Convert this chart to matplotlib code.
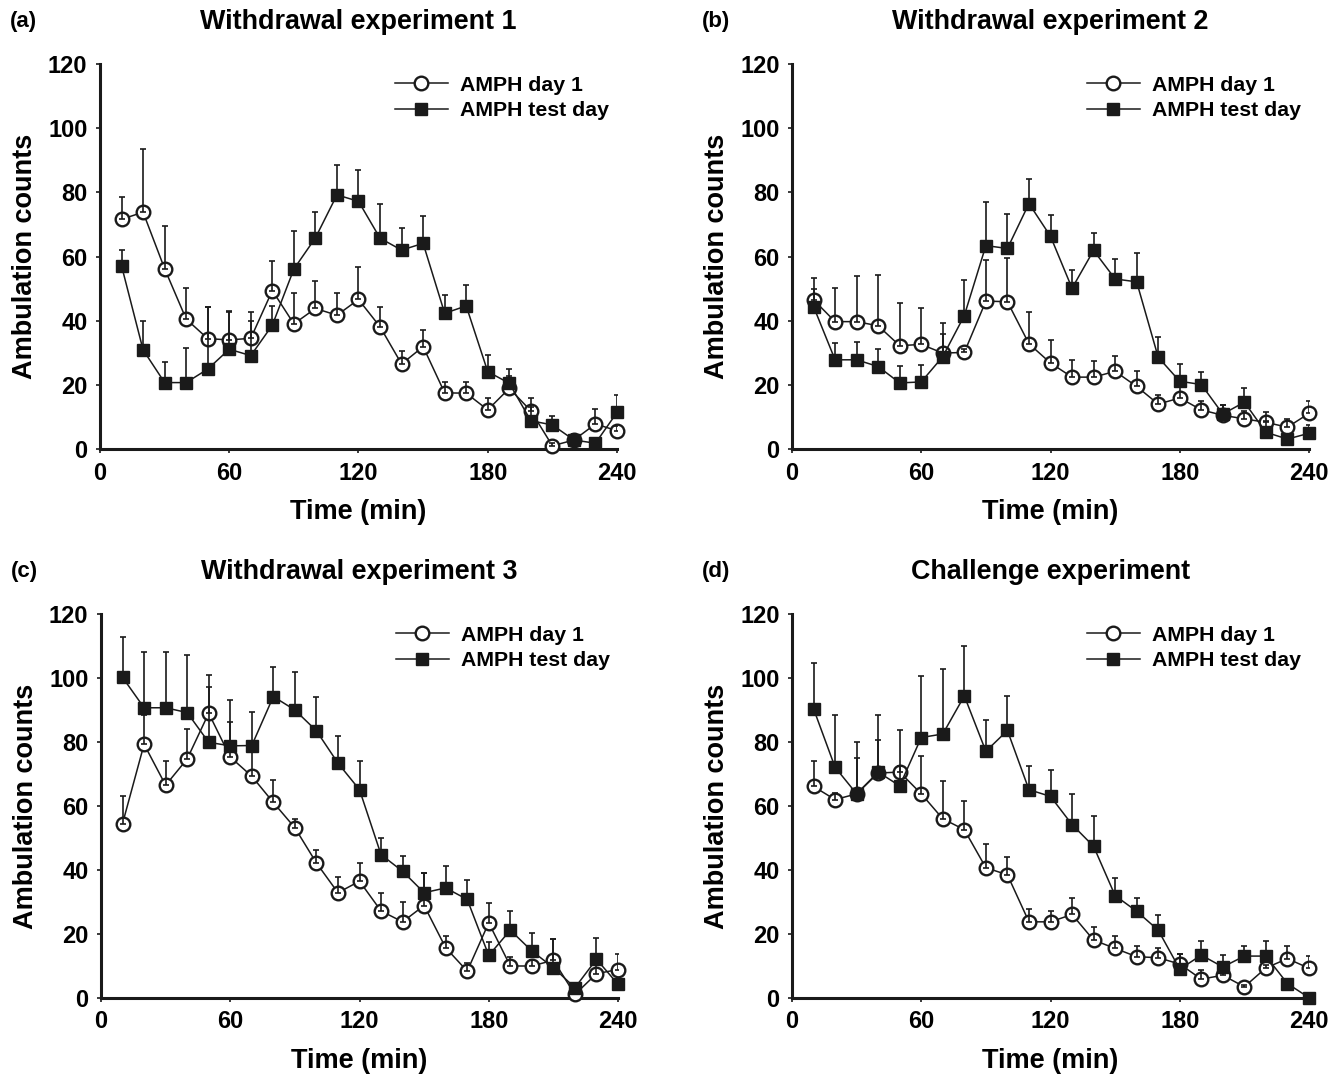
import matplotlib
matplotlib.use("Agg")
import matplotlib.pyplot as plt

plt.rcParams["font.family"] = ["Liberation Sans", "DejaVu Sans"]
plt.rcParams["font.weight"] = "bold"

# temps (min)
time = [10, 20, 30, 40, 50, 60, 70, 80, 90, 100, 110, 120,
        130, 140, 150, 160, 170, 180, 190, 200, 210, 220, 230, 240]

# (a) Withdrawal experiment 1
a_day1 = [71.6, 73.8, 56.2, 40.5, 34.4, 34.0, 34.5, 49.4, 39.0, 43.8, 41.7, 46.6,
          38.1, 26.5, 31.9, 17.5, 17.4, 12.2, 18.9, 11.9, 1.0, 2.8, 7.8, 5.7]
a_day1_sem = [7.0, 19.7, 13.4, 9.8, 10.0, 9.1, 8.1, 9.2, 9.7, 8.7, 7.0, 10.2,
              6.3, 4.1, 5.2, 3.5, 3.4, 3.8, 4.0, 4.1, 1.0, 1.5, 4.7, 1.5]
a_test = [57.1, 30.9, 20.7, 20.7, 24.9, 31.1, 29.1, 38.6, 56.1, 65.8, 79.2, 77.2,
          65.7, 62.0, 64.1, 42.3, 44.6, 24.1, 20.5, 8.8, 7.5, 2.8, 1.8, 11.4]
a_test_sem = [4.9, 8.9, 6.3, 10.8, 19.5, 11.5, 10.8, 6.0, 12.0, 8.2, 9.3, 9.9,
              10.7, 6.8, 8.5, 5.8, 6.6, 5.1, 4.3, 4.4, 2.8, 1.8, 0.5, 5.4]

# (b) Withdrawal experiment 2
b_day1 = [46.5, 39.7, 39.7, 38.4, 32.2, 32.6, 29.9, 30.1, 46.1, 45.9, 32.8, 26.8,
          22.4, 22.4, 24.2, 19.5, 14.0, 15.9, 12.2, 10.5, 9.4, 8.3, 6.8, 11.1]
b_day1_sem = [6.8, 10.4, 14.1, 15.7, 13.4, 11.3, 9.3, 1.0, 12.9, 13.6, 9.9, 7.3,
              5.4, 5.0, 4.9, 4.7, 2.9, 4.6, 2.9, 3.3, 2.3, 3.1, 2.6, 4.0]
b_test = [44.4, 27.8, 27.8, 25.7, 20.6, 20.9, 28.8, 41.6, 63.4, 62.5, 76.5, 66.3,
          50.1, 61.9, 53.0, 52.1, 28.6, 21.1, 20.1, 10.9, 14.6, 5.2, 3.1, 4.9]
b_test_sem = [5.6, 5.2, 5.7, 5.4, 5.4, 5.4, 6.9, 11.2, 13.7, 10.7, 7.7, 6.5,
              5.8, 5.4, 6.1, 9.0, 6.3, 5.4, 3.8, 2.9, 4.3, 3.6, 1.5, 2.7]

# (c) Withdrawal experiment 3
c_day1 = [54.5, 79.3, 66.5, 74.7, 89.0, 75.3, 69.3, 61.1, 53.2, 42.2, 32.9, 36.5,
          27.2, 23.8, 28.9, 15.7, 8.4, 23.5, 10.0, 10.0, 11.8, 1.1, 7.6, 8.9]
c_day1_sem = [8.7, 9.0, 7.7, 9.4, 8.3, 10.8, 9.5, 7.1, 2.8, 4.2, 4.9, 5.7,
              5.7, 6.2, 10.2, 3.6, 2.6, 6.2, 2.9, 2.0, 6.5, 1.0, 3.9, 4.7]
c_test = [100.2, 90.7, 90.7, 89.2, 79.9, 78.8, 78.9, 94.2, 90.0, 83.5, 73.4, 65.1,
          44.8, 39.6, 32.9, 34.4, 30.8, 13.3, 21.2, 14.7, 9.5, 3.2, 12.1, 4.3]
c_test_sem = [12.5, 17.5, 17.5, 18.0, 21.0, 14.2, 10.5, 9.2, 11.8, 10.7, 8.5, 9.1,
              5.3, 4.7, 6.2, 6.8, 6.2, 4.2, 6.1, 5.5, 8.8, 1.0, 6.7, 1.0]

# (d) Challenge experiment
d_day1 = [66.1, 62.0, 63.8, 70.3, 70.6, 63.8, 56.0, 52.6, 40.7, 38.5, 23.8, 23.8,
          26.1, 18.1, 15.5, 12.9, 12.6, 10.6, 5.9, 7.1, 3.5, 9.4, 12.3, 9.3]
d_day1_sem = [8.1, 2.0, 11.3, 10.4, 2.0, 11.9, 11.7, 8.9, 7.5, 5.6, 4.0, 3.3,
              5.0, 4.0, 3.8, 3.3, 3.1, 3.2, 2.8, 2.9, 0.5, 1.0, 4.1, 3.8]
d_test = [90.4, 72.1, 63.8, 70.6, 66.3, 81.4, 82.5, 94.4, 77.1, 83.6, 65.1, 63.0,
          54.2, 47.4, 32.0, 27.1, 21.2, 9.0, 13.4, 9.7, 13.1, 13.1, 4.5, 0.1]
d_test_sem = [14.4, 16.4, 16.1, 17.8, 17.3, 19.3, 20.4, 15.7, 9.8, 10.8, 7.3, 8.3,
              9.4, 9.4, 5.5, 4.2, 4.6, 4.6, 4.4, 3.6, 3.1, 4.7, 1.0, 0.0]

titles = ["Withdrawal experiment 1", "Withdrawal experiment 2",
          "Withdrawal experiment 3", "Challenge experiment"]
letters = ["(a)", "(b)", "(c)", "(d)"]
series = [(a_day1, a_day1_sem, a_test, a_test_sem),
          (b_day1, b_day1_sem, b_test, b_test_sem),
          (c_day1, c_day1_sem, c_test, c_test_sem),
          (d_day1, d_day1_sem, d_test, d_test_sem)]

W, H = 1331, 1075
fig = plt.figure(figsize=(W / 100, H / 100), dpi=100)

# positions des axes en pixels: (gauche, haut, droite, bas)
boxes = [(100, 64, 617, 449), (792, 64, 1309, 449),
         (101, 614, 618, 998), (792, 614, 1309, 998)]

ink = "#1a1a1a"

for i, (l, t, r, b) in enumerate(boxes):
    ax = fig.add_axes([l / W, 1 - b / H, (r - l) / W, (b - t) / H])
    day1, day1_sem, test, test_sem = series[i]

    h1, = ax.plot(time, day1, color=ink, lw=1.1, marker="o", ms=9.8,
                  mfc="white", mec=ink, mew=1.7, zorder=3, clip_on=False,
                  label="AMPH day 1")
    h2, = ax.plot(time, test, color=ink, lw=1.1, marker="s", ms=9.0,
                  mfc=ink, mec=ink, mew=1.0, zorder=3, clip_on=False,
                  label="AMPH test day")
    ax.errorbar(time, day1, yerr=[[0] * len(day1), day1_sem], fmt="none",
                ecolor=ink, elinewidth=1.2, capsize=2.3, capthick=1.2, zorder=4)
    ax.errorbar(time, test, yerr=[[0] * len(test), test_sem], fmt="none",
                ecolor=ink, elinewidth=1.2, capsize=2.3, capthick=1.2, zorder=4)

    ax.set_xlim(0, 240)
    ax.set_ylim(0, 120)
    ax.set_xticks([0, 60, 120, 180, 240])
    ax.set_yticks([0, 20, 40, 60, 80, 100, 120])
    for s in ["top", "right"]:
        ax.spines[s].set_visible(False)
    for s in ["left", "bottom"]:
        ax.spines[s].set_linewidth(2.2)
        ax.spines[s].set_color(ink)
    ax.tick_params(direction="out", length=3, width=1.2, labelsize=17, pad=6, colors=ink)
    for lab in ax.get_xticklabels() + ax.get_yticklabels():
        lab.set_fontweight("bold")
        lab.set_color("black")

    ax.legend(handles=[h1, h2], loc="upper left", bbox_to_anchor=(0.57, 0.97),
              frameon=False, handlelength=2.5, handletextpad=0.55,
              labelspacing=0.32, borderpad=0, borderaxespad=0,
              prop={"weight": "bold", "size": 15.3})

    cx = (l + r) / 2
    fig.text(cx / W, 1 - (t - 42) / H, titles[i], ha="center", va="center",
             fontsize=19.4, fontweight="bold")
    fig.text((l - 90) / W, 1 - (t - 42) / H, letters[i], ha="left", va="center",
             fontsize=16, fontweight="bold")
    fig.text((l - 75) / W, 1 - ((t + b) / 2) / H, "Ambulation counts", rotation=90,
             ha="center", va="center", fontsize=19.5, fontweight="bold")
    fig.text(cx / W, 1 - (b + 63) / H, "Time (min)", ha="center", va="center",
             fontsize=19.5, fontweight="bold")

fig.savefig("out.png", dpi=100)
